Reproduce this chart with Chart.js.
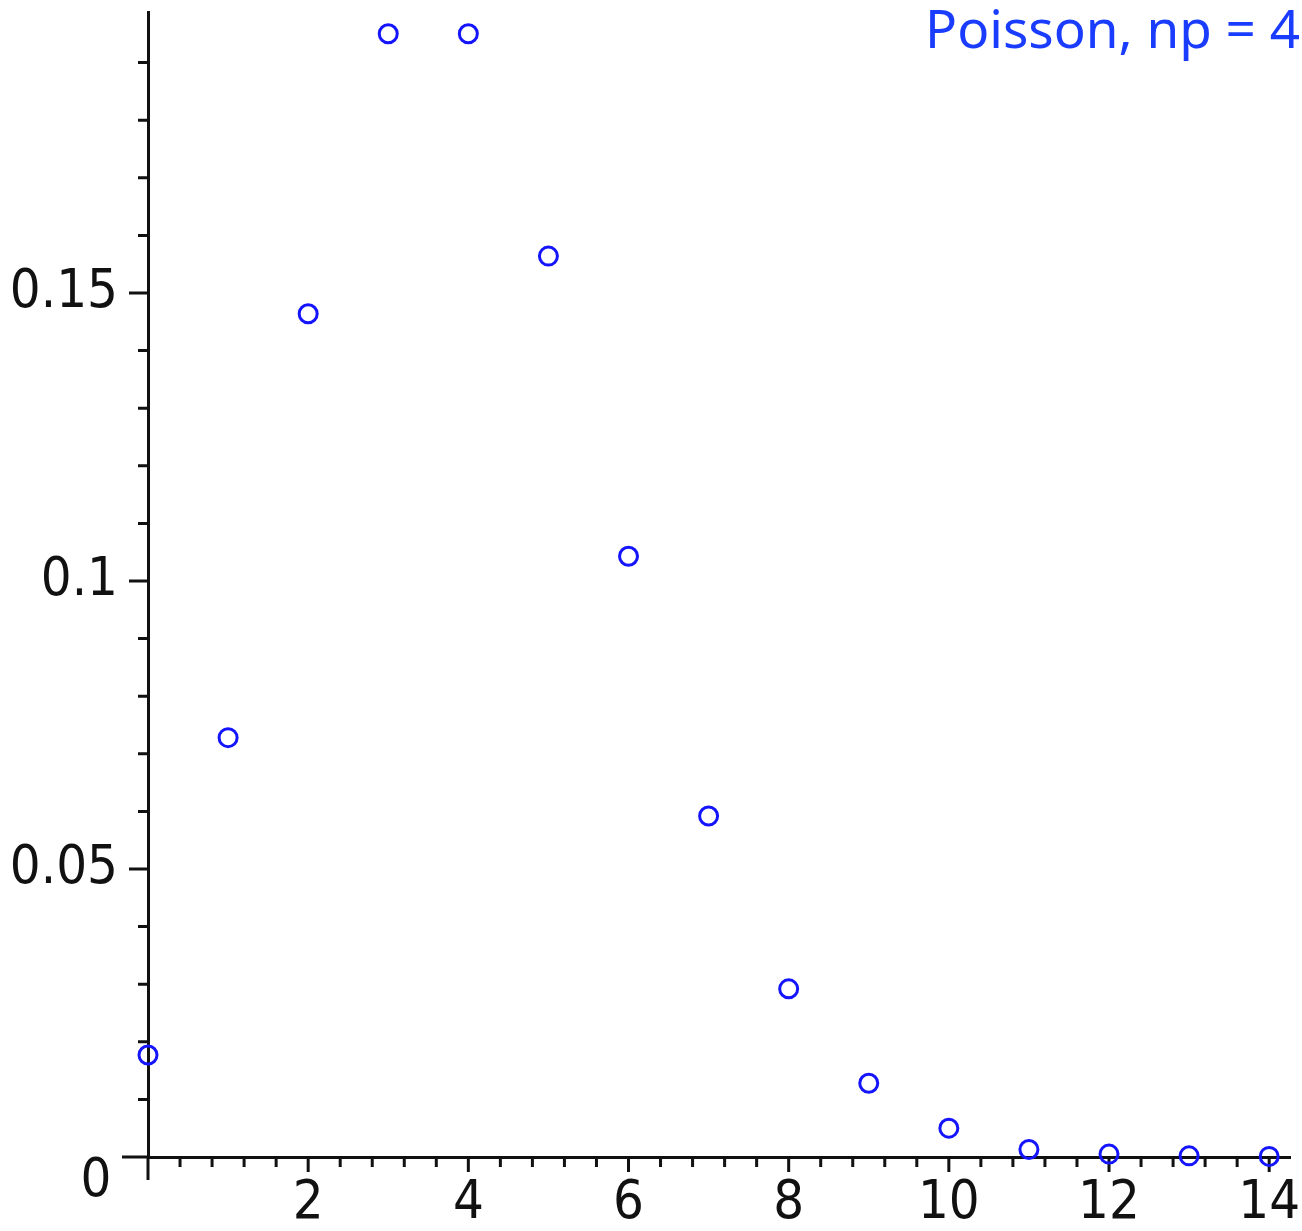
<!DOCTYPE html>
<html>
<head>
<meta charset="UTF-8" />
<title>Poisson, np = 4</title>
<script src="https://cdn.jsdelivr.net/npm/chart.js@4"></script>
<style>
  body { margin: 0; background: #fff; }
  canvas { display: block; }
</style>
</head>
<body>
<canvas id="chart" width="1302" height="1231"></canvas>
<script>
  // P(X = k) for X ~ Poisson(4)
  const kValues = [0, 1, 2, 3, 4, 5, 6, 7, 8, 9, 10, 11, 12, 13, 14];
  const probs = [0.0177, 0.0728, 0.1464, 0.1950, 0.1950, 0.1564, 0.1043, 0.0592,
                 0.0292, 0.0128, 0.0050, 0.0013, 0.0005, 0.0002, 0.0001];

  const xTickValues = [2, 4, 6, 8, 10, 12, 14];
  const xTickLabels = ['2', '4', '6', '8', '10', '12', '14'];
  const yTickValues = [0.05, 0.1, 0.15];
  const yTickLabels = ['0.05', '0.1', '0.15'];
  const originLabel = '0';
  const titleText = 'Poisson, np = 4';

  const xMinorStep = 0.4, xMinorCount = 36;   // 0 .. 14
  const yMinorStep = 0.01, yMinorCount = 20;  // 0 .. 0.19

  const labelFont = {
    family: "'Liberation Sans Narrow', 'DejaVu Sans Condensed', 'Liberation Sans', sans-serif",
    size: 54
  };
  const axisColor = '#111';

  function findLabel(values, labels, v) {
    for (let i = 0; i < values.length; i++) {
      if (Math.abs(values[i] - v) < 1e-9) return labels[i];
    }
    return '';
  }

  // minor / major tick marks hang off the axis lines
  const tickMarks = {
    id: 'tickMarks',
    beforeDatasetsDraw(chart) {
      const ctx = chart.ctx;
      const xs = chart.scales.x, ys = chart.scales.y;
      const x0 = xs.getPixelForValue(0), y0 = ys.getPixelForValue(0);
      ctx.save();
      ctx.strokeStyle = axisColor;
      ctx.lineWidth = 3;
      ctx.beginPath();
      xs.ticks.forEach(t => {
        const px = xs.getPixelForValue(t.value);
        const len = t.value === 0 ? 23 : (t.big ? 15 : 10);
        ctx.moveTo(px, y0);
        ctx.lineTo(px, y0 + len);
      });
      ys.ticks.forEach(t => {
        const py = ys.getPixelForValue(t.value);
        const len = t.value === 0 ? 26 : (t.big ? 19 : 10);
        ctx.moveTo(x0, py);
        ctx.lineTo(x0 - len, py);
      });
      ctx.stroke();
      ctx.restore();
    },
    afterDraw(chart) {
      const ctx = chart.ctx;
      const xs = chart.scales.x, ys = chart.scales.y;
      ctx.save();
      ctx.fillStyle = axisColor;
      ctx.font = labelFont.size + 'px ' + labelFont.family;
      ctx.textAlign = 'center';
      ctx.textBaseline = 'middle';
      ctx.fillText(originLabel, xs.getPixelForValue(0) - 52, ys.getPixelForValue(0) + 25);

      ctx.fillStyle = '#1a3cff';
      ctx.font = "53px 'Noto Sans', sans-serif";
      ctx.textAlign = 'right';
      ctx.textBaseline = 'alphabetic';
      ctx.fillText(titleText, 1300, 48);
      ctx.restore();
    }
  };

  new Chart(document.getElementById('chart'), {
    type: 'scatter',
    data: {
      datasets: [{
        data: kValues.map((k, i) => ({ x: k, y: probs[i] })),
        showLine: false,
        pointStyle: 'circle',
        pointRadius: 9,
        pointHoverRadius: 9,
        pointBorderWidth: 3,
        borderColor: '#1414ff',
        backgroundColor: 'rgba(0,0,0,0)',
        clip: false
      }]
    },
    options: {
      responsive: false,
      animation: false,
      events: [],
      layout: { padding: { top: 12, right: 9, left: 0, bottom: 0 } },
      plugins: { legend: { display: false }, tooltip: { enabled: false } },
      scales: {
        x: {
          type: 'linear',
          position: 'bottom',
          min: 0,
          max: 14.26,
          afterBuildTicks(scale) {
            const ticks = [];
            for (let i = 0; i < xMinorCount; i++) {
              const v = Math.round(i * xMinorStep * 10) / 10;
              ticks.push({ value: v, big: findLabel(xTickValues, xTickLabels, v) !== '' });
            }
            scale.ticks = ticks;
          },
          afterFit(scale) {
            scale.height = 74;
            scale.paddingLeft = 0;
            scale.paddingRight = 0;
          },
          grid: { display: false, drawTicks: false },
          border: { display: true, width: 3, color: axisColor },
          ticks: {
            autoSkip: false,
            minRotation: 0,
            maxRotation: 0,
            padding: 15,
            color: axisColor,
            font: labelFont,
            callback: v => findLabel(xTickValues, xTickLabels, v)
          }
        },
        y: {
          type: 'linear',
          position: 'left',
          min: 0,
          max: 0.19878,
          afterBuildTicks(scale) {
            const ticks = [];
            for (let i = 0; i < yMinorCount; i++) {
              const v = Math.round(i * yMinorStep * 100) / 100;
              ticks.push({ value: v, big: findLabel(yTickValues, yTickLabels, v) !== '' });
            }
            scale.ticks = ticks;
          },
          afterFit(scale) {
            scale.width = 148;
            scale.paddingTop = 0;
            scale.paddingBottom = 0;
          },
          grid: { display: false, drawTicks: false },
          border: { display: true, width: 3, color: axisColor },
          ticks: {
            autoSkip: false,
            padding: 30,
            color: axisColor,
            font: labelFont,
            callback: v => findLabel(yTickValues, yTickLabels, v)
          }
        }
      }
    },
    plugins: [tickMarks]
  });
</script>
</body>
</html>
